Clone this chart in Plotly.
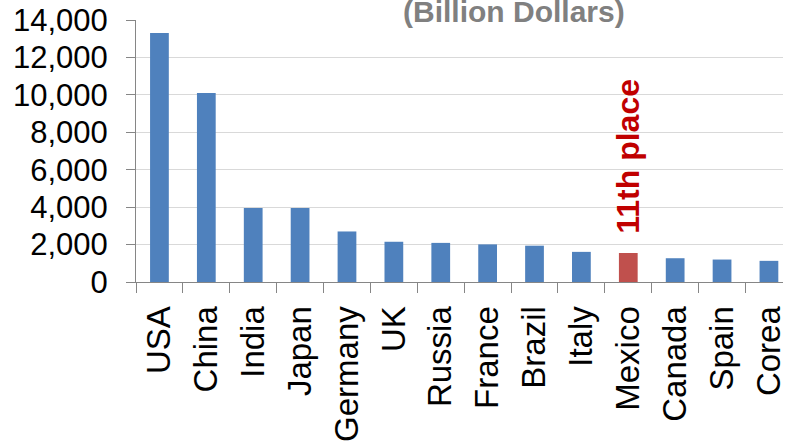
import plotly.graph_objects as go

# GDP by country, billion US dollars
countries = ["USA", "China", "India", "Japan", "Germany", "UK", "Russia",
             "France", "Brazil", "Italy", "Mexico", "Canada", "Spain", "Corea"]
gdp = [13300, 10100, 3950, 3950, 2700, 2150, 2090,
       2010, 1940, 1610, 1550, 1270, 1200, 1130]
highlight = "Mexico"
highlight_label = "11th place"
unit_title = "(Billion Dollars)"
y_ticks = [0, 2000, 4000, 6000, 8000, 10000, 12000, 14000]

BLUE = "#4F81BD"
RED = "#C0504D"
FONT = "Liberation Sans, Arial, sans-serif"

colors = [RED if c == highlight else BLUE for c in countries]

fig = go.Figure(go.Bar(
    x=countries, y=gdp, marker=dict(color=colors, line=dict(width=0)),
))

hi = countries.index(highlight)
fig.add_annotation(
    x=countries[hi], y=gdp[hi], xref="x", yref="y",
    text=f"<b>{highlight_label}</b>", textangle=-90,
    showarrow=False, yanchor="bottom", yshift=17,
    font=dict(family=FONT, size=32, color="#C00000"),
)
fig.add_annotation(
    x=0.5845, y=1.0, xref="paper", yref="paper",
    text=f"<b>{unit_title}</b>", showarrow=False,
    xanchor="center", yanchor="bottom", yshift=-10,
    font=dict(family=FONT, size=30, color="#808080"),
)

fig.update_layout(
    width=787, height=442,
    margin=dict(l=136, r=0, t=20, b=158),
    plot_bgcolor="white", paper_bgcolor="white",
    bargap=0.6, showlegend=False,
    font=dict(family=FONT, color="black"),
)
fig.update_xaxes(
    range=[-0.5, 13.3], tickangle=-90, tickson="boundaries",
    ticks="outside", ticklen=10, tickcolor="#868686",
    showline=True, linecolor="#868686", linewidth=1,
    tickfont=dict(family=FONT, size=33, color="black"),
    showgrid=False, ticklabelstandoff=10,
)
fig.update_yaxes(
    range=[0, 14000], tickvals=y_ticks, tickformat=",d",
    ticks="outside", ticklen=9, tickcolor="#868686",
    showline=True, linecolor="#868686", linewidth=1,
    showgrid=True, gridcolor="#D9D9D9", gridwidth=1,
    zeroline=False,
    tickfont=dict(family=FONT, size=31, color="black"),
    ticklabelstandoff=12,
)

fig.write_html("out.html")
